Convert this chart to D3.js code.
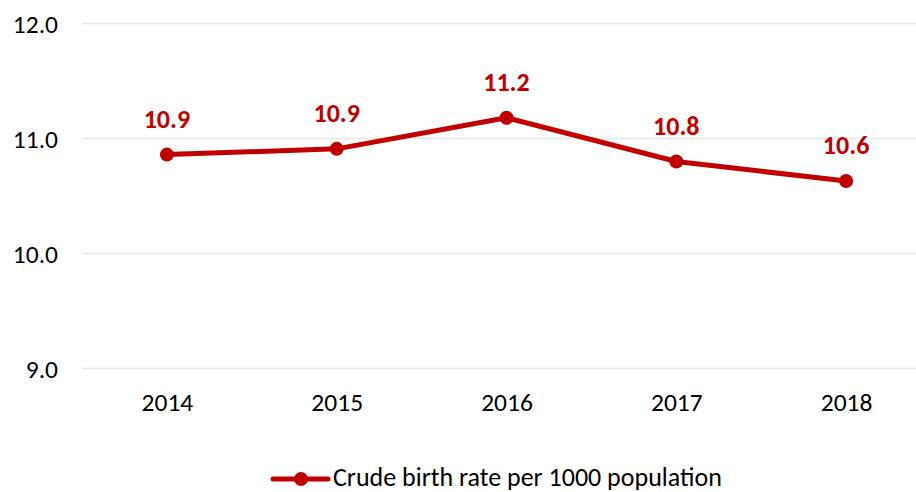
<!DOCTYPE html>
<html><head><meta charset="utf-8">
<script src="https://cdn.jsdelivr.net/npm/d3@7"></script>
<style>
body{margin:0;background:#fff;}
text{font-family:Carlito,Lato,"Open Sans",sans-serif;}
</style></head>
<body><svg id="c" width="916" height="492"></svg>
<script>
const years = ["2014","2015","2016","2017","2018"];
const birthRate = [10.86, 10.91, 11.18, 10.80, 10.63];
const dataLabels = ["10.9","10.9","11.2","10.8","10.6"];
const yTicks = [9, 10, 11, 12];
const seriesName = "Crude birth rate per 1000 population";

const svg = d3.select("#c");
const color = "#C00000";
const x = d3.scalePoint().domain(years).range([82, 931]).padding(0.5);
const y = d3.scaleLinear().domain([9, 12]).range([368.5, 23.5]);

// gridlines
svg.append("g").selectAll("line").data(yTicks).join("line")
  .attr("x1", 82).attr("x2", 916)
  .attr("y1", d => y(d)).attr("y2", d => y(d))
  .attr("stroke", "#e6e6e6").attr("stroke-width", 1.5);

// y axis labels
const ya = svg.append("g").attr("transform", "translate(58,0)")
  .call(d3.axisLeft(y).tickValues(yTicks).tickFormat(d3.format(".1f")).tickSize(0).tickPadding(0));
ya.select(".domain").remove();
ya.selectAll("text").attr("font-size", 25.5).attr("fill", "#000").attr("dy", "0.36em")
  .attr("font-family", "Carlito,Lato,sans-serif");

// x axis labels
const xa = svg.append("g").attr("transform", "translate(0,0)")
  .call(d3.axisBottom(x).tickSize(0).tickPadding(0));
xa.select(".domain").remove();
xa.selectAll("text").attr("font-size", 25.5).attr("fill", "#000")
  .attr("y", 411).attr("dy", 0)
  .attr("font-family", "Carlito,Lato,sans-serif");

const pts = years.map((yr, i) => ({yr, v: birthRate[i], lab: dataLabels[i]}));

svg.append("path").datum(pts)
  .attr("fill", "none").attr("stroke", color).attr("stroke-width", 5)
  .attr("stroke-linejoin", "round")
  .attr("d", d3.line().x(d => x(d.yr)).y(d => y(d.v)));

svg.append("g").selectAll("circle").data(pts).join("circle")
  .attr("cx", d => x(d.yr)).attr("cy", d => y(d.v)).attr("r", 7).attr("fill", color);

svg.append("g").selectAll("text").data(pts).join("text")
  .attr("x", d => x(d.yr)).attr("y", d => y(d.v) - 27)
  .attr("text-anchor", "middle").attr("font-size", 26).attr("font-weight", "bold")
  .attr("fill", color).text(d => d.lab);

// legend
const lg = svg.append("g").attr("transform", "translate(273,479)");
lg.append("line").attr("x1", 0).attr("x2", 55).attr("y1", 0).attr("y2", 0)
  .attr("stroke", color).attr("stroke-width", 5).attr("stroke-linecap", "round");
lg.append("circle").attr("cx", 28).attr("cy", 0).attr("r", 7).attr("fill", color);
lg.append("text").attr("x", 60).attr("y", 7)
  .attr("font-size", 26).attr("fill", "#000").text(seriesName);
</script></body></html>
